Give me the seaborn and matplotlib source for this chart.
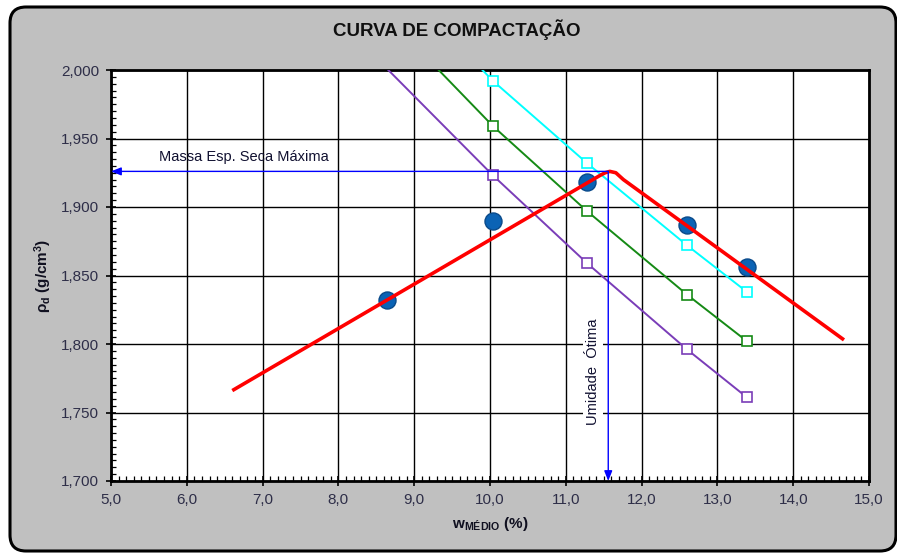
import matplotlib
matplotlib.use("Agg")
import matplotlib.pyplot as plt
import seaborn as sns
import pandas as pd
from matplotlib.patches import FancyBboxPatch
from matplotlib.ticker import MultipleLocator, FuncFormatter

# Ensaio de compactação: pontos medidos
w_medio = [8.64, 10.04, 11.28, 12.60, 13.39]
rho_d = [1.832, 1.890, 1.918, 1.887, 1.856]

# Curvas de saturação (mesmas umidades)
sat_roxa = [2.001, 1.923, 1.859, 1.796, 1.761]
sat_verde = [2.039, 1.959, 1.897, 1.836, 1.802]
sat_ciano = [2.072, 1.992, 1.932, 1.872, 1.838]

# Curva de compactação ajustada
curva_w = [6.60, 11.45, 11.52, 11.58, 11.66, 11.76, 14.67]
curva_rho = [1.766, 1.923, 1.925, 1.926, 1.925, 1.920, 1.803]

# Ponto ótimo
w_otima = 11.56
rho_max = 1.926

x_ticks = [5.0, 6.0, 7.0, 8.0, 9.0, 10.0, 11.0, 12.0, 13.0, 14.0, 15.0]
y_ticks = [1.700, 1.750, 1.800, 1.850, 1.900, 1.950, 2.000]

sns.set_theme(style="white")
plt.rcParams["font.family"] = ["Liberation Sans", "DejaVu Sans"]
plt.rcParams["mathtext.fontset"] = "custom"
plt.rcParams["mathtext.rm"] = "Liberation Sans"
plt.rcParams["mathtext.bf"] = "Liberation Sans:bold"
plt.rcParams["mathtext.it"] = "Liberation Sans:italic"

W, H = 897, 554
fig = plt.figure(figsize=(W / 100, H / 100), dpi=100, facecolor="white")

# moldura cinza arredondada do gráfico
frame = FancyBboxPatch((10, 3), 886, 544, boxstyle="round,pad=0,rounding_size=16",
                       transform=None, facecolor="#C0C0C0", edgecolor="black",
                       linewidth=2.2, zorder=-10)
fig.patches.append(frame)

ax = fig.add_axes([111 / W, 1 - 481 / H, (869 - 111) / W, (481 - 70) / H])
ax.set_zorder(5)
ax.set_facecolor("white")

df_sat = pd.DataFrame({
    "w": w_medio * 3,
    "rho": sat_roxa + sat_verde + sat_ciano,
    "serie": ["roxa"] * 5 + ["verde"] * 5 + ["ciano"] * 5,
})
cores = {"roxa": "#7A3DB8", "verde": "#158A15", "ciano": "#00FFFF"}
sns.lineplot(data=df_sat, x="w", y="rho", hue="serie", palette=cores,
             estimator=None, sort=False, linewidth=1.4, legend=False, ax=ax, zorder=3)
for nome, vals in [("roxa", sat_roxa), ("verde", sat_verde), ("ciano", sat_ciano)]:
    xs = [w for w, v in zip(w_medio, vals) if v <= 2.0]
    ys = [v for v in vals if v <= 2.0]
    ax.plot(xs, ys, linestyle="none", marker="s", markersize=7,
            markerfacecolor="white", markeredgecolor=cores[nome],
            markeredgewidth=1.2, zorder=4)

sns.scatterplot(x=w_medio, y=rho_d, s=150, color="#0B63B5", edgecolor="#0A4A8A",
                linewidth=1.0, ax=ax, zorder=5)

sns.lineplot(x=curva_w, y=curva_rho, sort=False, estimator=None, color="#FF0000",
             linewidth=2.6, ax=ax, zorder=6, solid_joinstyle="round",
             solid_capstyle="butt")

# linhas de leitura do ponto ótimo
ax.annotate("", xy=(5.0, rho_max), xytext=(w_otima, rho_max),
            arrowprops=dict(arrowstyle="-|>,head_length=0.5,head_width=0.2",
                            color="#0000FF", lw=1.0, shrinkA=0, shrinkB=0), zorder=7)
ax.annotate("", xy=(w_otima, 1.700), xytext=(w_otima, rho_max),
            arrowprops=dict(arrowstyle="-|>,head_length=0.5,head_width=0.2",
                            color="#0000FF", lw=1.0, shrinkA=0, shrinkB=0), zorder=7)

ax.text(5.63, 1.9365, "Massa Esp. Seca Máxima", fontsize=10.5, color="#101030",
        ha="left", va="center", zorder=8)
ax.text(11.36, 1.7795, "Umidade  Ótima", fontsize=10.5, color="#101030",
        rotation=90, ha="center", va="center", zorder=2.5,
        bbox=dict(facecolor="white", edgecolor="none", pad=2))

ax.set_xlim(5.0, 15.0)
ax.set_ylim(1.700, 2.000)
ax.set_xticks(x_ticks)
ax.set_yticks(y_ticks)
ax.xaxis.set_minor_locator(MultipleLocator(0.1))
ax.yaxis.set_minor_locator(MultipleLocator(0.005))
ax.xaxis.set_major_formatter(FuncFormatter(lambda v, p: f"{v:.1f}".replace(".", ",")))
ax.yaxis.set_major_formatter(FuncFormatter(lambda v, p: f"{v:.3f}".replace(".", ",")))
ax.grid(True, which="major", color="black", linewidth=1.0, zorder=1)
ax.set_axisbelow(True)
ax.tick_params(which="major", direction="inout", length=7, width=1.2, color="black",
               labelsize=11, labelcolor="#2E2E48", pad=5)
ax.tick_params(which="minor", direction="in", length=3.5, width=0.9, color="black")
ax.tick_params(axis="x", which="both", bottom=True, top=False)
ax.tick_params(axis="y", which="both", left=True, right=False)
for s in ax.spines.values():
    s.set_visible(True)
    s.set_color("black")
    s.set_linewidth(2.0)

ax.set_xlabel(r"$\mathbf{w_{MÉDIO}}$ $\mathbf{(\%)}$", fontsize=11, color="#101020", labelpad=6)
ax.set_ylabel(r"$\mathbf{\rho_{d}}$ $\mathbf{(g/cm^{3})}$", fontsize=11, color="#101020", labelpad=5)

fig.text(457 / W, 1 - 30 / H, "CURVA DE COMPACTAÇÃO", ha="center", va="center",
         fontsize=13.5, fontweight="bold", color="#101010")

fig.savefig("out.png", dpi=100, facecolor="white")
